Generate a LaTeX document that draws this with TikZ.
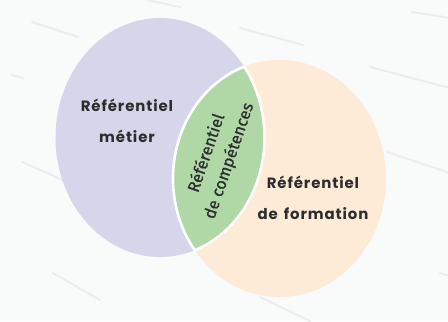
\documentclass[tikz,border=0pt]{standalone}
\usepackage{fontspec}
\setmainfont{Poppins}[LetterSpace=6]
\newfontfamily\lensfont{Fira Sans}[FakeBold=0.8]
\definecolor{bgc}{HTML}{F9FAFA}
\definecolor{streak}{HTML}{ECEDEF}
\definecolor{metier}{HTML}{D5D6EA}
\definecolor{formation}{HTML}{FDEBD7}
\definecolor{compet}{HTML}{AFD8A6}
\definecolor{txt}{HTML}{2D2D2D}
\tikzset{
  lbl/.style={font=\bfseries\fontsize{15}{31}\selectfont, text=txt, align=center, inner sep=0pt},
  lenslbl/.style={font=\lensfont\fontsize{16.5}{24}\selectfont, text=txt, align=center, inner sep=0pt},
  streakline/.style={draw=streak, line width=2bp, line cap=round},
}
\begin{document}
\begin{tikzpicture}[x=1bp,y=-1bp]
\fill[bgc] (0,0) rectangle (448,321);
\useasboundingbox (0,0) rectangle (448,321);
% faint streaks
\foreach \a/\b in {{(32,22)}/{(78,37)}, {(240,28)}/{(303,45)}, {(412,12)}/{(450,18)}, {(370,67)}/{(450,88)},
  {(12,75)}/{(23,78)}, {(22,162)}/{(63,180)}, {(53,273)}/{(100,300)}, {(147,0)}/{(180,7)},
  {(387,152)}/{(450,173)}, {(260,297)}/{(310,321)}, {(440,273)}/{(450,276)}}
  \draw[streakline] \a -- \b;
% ellipses
\fill[metier] (160,137.5) ellipse [x radius=104.5bp, y radius=119.5bp];
\fill[formation] (279.5,178.5) ellipse [x radius=106.5bp, y radius=118.5bp];
% lens
\begin{scope}
  \clip (160,137.5) ellipse [x radius=104.5bp, y radius=119.5bp];
  \fill[compet] (279.5,178.5) ellipse [x radius=106.5bp, y radius=118.5bp];
  \draw[white, line width=2.6bp] (279.5,178.5) ellipse [x radius=106.5bp, y radius=118.5bp];
\end{scope}
\begin{scope}
  \clip (279.5,178.5) ellipse [x radius=106.5bp, y radius=118.5bp];
  \draw[white, line width=2.6bp] (160,137.5) ellipse [x radius=104.5bp, y radius=119.5bp];
\end{scope}
% labels
\node[lbl] (metierlbl) at (127,121) {Référentiel\\métier};
\node[lbl] (formlbl) at (313,198) {Référentiel\\de\hspace{2bp} formation};
\node[lenslbl, rotate=71] (complbl) at (218,157) {Référentiel\\de compétences};
\end{tikzpicture}
\end{document}
